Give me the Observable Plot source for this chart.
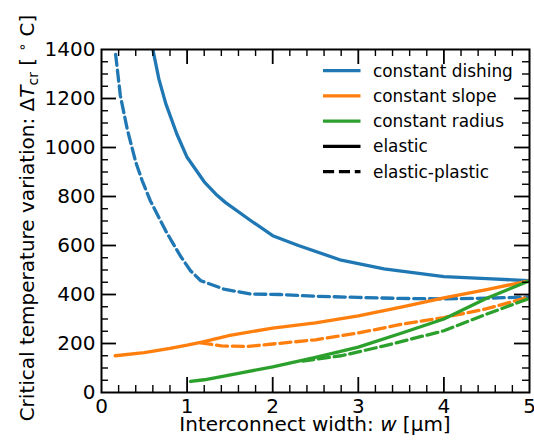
<!DOCTYPE html>
<html><head><meta charset="utf-8">
<script src="https://cdn.jsdelivr.net/npm/d3@7"></script>
<script src="https://cdn.jsdelivr.net/npm/@observablehq/plot@0.6"></script>
<style>body{margin:0;background:#fff}</style>
</head><body><div id="chart"></div>
<script>
// ---- data ----
const xTicks = [0, 1, 2, 3, 4, 5];
const yTicks = [0, 200, 400, 600, 800, 1000, 1200, 1400];
const xMajorInner = [1, 2, 3, 4];
const xMinor = [0.2,0.4,0.6,0.8,1.2,1.4,1.6,1.8,2.2,2.4,2.6,2.8,3.2,3.4,3.6,3.8,4.2,4.4,4.6,4.8];
const yMajorInner = [200, 400, 600, 800, 1000, 1200];
const yMinor = [50,100,150,250,300,350,450,500,550,650,700,750,850,900,950,1050,1100,1150,1250,1300,1350];

const dishingElastic = [[0.6,1400],[0.67,1280],[0.75,1180],[0.88,1055],[1.0,960],[1.2,860],[1.35,805],[1.45,775],[1.75,700],[2.0,640],[2.3,600],[2.8,540],[3.3,505],[4.0,473],[4.5,465],[5.0,456]];
const dishingPlastic = [[0.165,1380],[0.22,1212],[0.30,1076],[0.40,940],[0.475,865],[0.57,783],[0.75,660],[0.92,558],[1.04,497],[1.16,456],[1.43,422],[1.74,402],[2.09,400],[2.5,393],[3.0,388],[3.5,384],[4.0,382],[4.5,385],[5.0,390]];
const slopeElastic = [[0.16,150],[0.5,163],[0.8,180],[1.0,193],[1.16,205],[1.5,233],[2.0,263],[2.5,284],[3.0,313],[3.5,348],[4.0,386],[4.5,420],[5.0,456]];
const slopePlastic = [[1.16,203],[1.4,190],[1.7,188],[2.0,198],[2.5,215],[3.0,243],[3.5,278],[4.0,306],[4.5,342],[5.0,390]];
const radiusElastic = [[1.04,45],[1.2,52],[1.6,78],[2.0,105],[2.5,143],[3.0,185],[3.5,242],[4.0,300],[4.5,385],[5.0,456]];
const radiusPlastic = [[2.35,128],[2.8,150],[3.3,190],[4.0,252],[4.5,320],[5.0,384]];

const seriesNames = ["constant dishing", "constant slope", "constant radius"];
const seriesColors = ["#1f77b4", "#ff7f0e", "#2ca02c"];
const styleNames = ["elastic", "elastic-plastic"];

// ---- chart ----
const W = 534, H = 444, ML = 101, MR = 5, MT = 49, MB = 52;
const innerW = W - ML - MR, innerH = H - MT - MB;
const xMin = 0, xMax = 5, yMin = 0, yMax = 1400;
const dash = "11.1,4.8";
const lineOpts = (c, dashed) => ({x: d => d[0], y: d => d[1], stroke: c, strokeWidth: 3.3, clip: true, strokeDasharray: dashed ? dash : null});
// tick lengths in pixels converted to data units
const majLen = 15, minLen = 7;
const yu = px => px * (yMax - yMin) / innerH;
const xu = px => px * (xMax - xMin) / innerW;

const chart = Plot.plot({
  width: W, height: H, marginLeft: ML, marginRight: MR, marginTop: MT, marginBottom: MB,
  style: {fontFamily: "DejaVu Sans", fontSize: "20px", background: "white", color: "black"},
  x: {domain: [xMin, xMax]},
  y: {domain: [yMin, yMax]},
  marks: [
    Plot.line(dishingElastic, lineOpts(seriesColors[0], false)),
    Plot.line(dishingPlastic, lineOpts(seriesColors[0], true)),
    Plot.line(slopeElastic, lineOpts(seriesColors[1], false)),
    Plot.line(slopePlastic, lineOpts(seriesColors[1], true)),
    Plot.line(radiusElastic, lineOpts(seriesColors[2], false)),
    Plot.line(radiusPlastic, lineOpts(seriesColors[2], true)),
    // inward ticks bottom/top
    Plot.ruleX(xMajorInner, {x: d => d, y1: yMin, y2: yMin + yu(majLen), stroke: "black", strokeWidth: 1.8}),
    Plot.ruleX(xMajorInner, {x: d => d, y1: yMax - yu(majLen), y2: yMax, stroke: "black", strokeWidth: 1.8}),
    Plot.ruleX(xMinor, {x: d => d, y1: yMin, y2: yMin + yu(minLen), stroke: "black", strokeWidth: 1.4}),
    Plot.ruleX(xMinor, {x: d => d, y1: yMax - yu(minLen), y2: yMax, stroke: "black", strokeWidth: 1.4}),
    // inward ticks left/right
    Plot.ruleY(yMajorInner, {y: d => d, x1: xMin, x2: xMin + xu(majLen), stroke: "black", strokeWidth: 1.8}),
    Plot.ruleY(yMajorInner, {y: d => d, x1: xMax - xu(majLen), x2: xMax, stroke: "black", strokeWidth: 1.8}),
    Plot.ruleY(yMinor, {y: d => d, x1: xMin, x2: xMin + xu(minLen), stroke: "black", strokeWidth: 1.4}),
    Plot.ruleY(yMinor, {y: d => d, x1: xMax - xu(minLen), x2: xMax, stroke: "black", strokeWidth: 1.4}),
    Plot.axisX({ticks: xTicks, tickSize: 0, tickPadding: 6, label: null, fontSize: 20, tickFormat: d => String(d)}),
    Plot.axisY({ticks: yTicks, tickSize: 0, tickPadding: 6, label: null, fontSize: 20, tickFormat: d => String(d)}),
    Plot.frame({stroke: "black", strokeWidth: 2})
  ]
});
document.getElementById("chart").appendChild(chart);

const svg = d3.select(chart);
const font = "DejaVu Sans";

// x label
const xl = svg.append("text").attr("x", ML + innerW / 2).attr("y", 431)
  .attr("text-anchor", "middle").attr("font-family", font).attr("font-size", 20).attr("fill", "black");
xl.append("tspan").text("Interconnect width: ");
xl.append("tspan").attr("font-style", "italic").text("w");
xl.append("tspan").text(" [µm]");

// y label
const yl = svg.append("text").attr("transform", `translate(33.5,218) rotate(-90)`)
  .attr("text-anchor", "middle").attr("font-family", font).attr("font-size", 20).attr("fill", "black");
yl.append("tspan").text("Critical temperature variation: Δ");
yl.append("tspan").attr("font-style", "italic").text("T");
yl.append("tspan").attr("font-size", 14).attr("dy", 4).text("cr");
yl.append("tspan").attr("dy", -4).text(" [ ");
yl.append("tspan").attr("font-size", 14).attr("dy", -7).text("∘");
yl.append("tspan").attr("dy", 7).text(" C]");

// legend
const legendItems = [
  {label: seriesNames[0], color: seriesColors[0], dashed: false},
  {label: seriesNames[1], color: seriesColors[1], dashed: false},
  {label: seriesNames[2], color: seriesColors[2], dashed: false},
  {label: styleNames[0], color: "black", dashed: false},
  {label: styleNames[1], color: "black", dashed: true}
];
const lg = svg.append("g");
legendItems.forEach((it, i) => {
  const y = 70.7 + i * 25.25;
  lg.append("line").attr("x1", 323).attr("x2", 360.5).attr("y1", y).attr("y2", y)
    .attr("stroke", it.color).attr("stroke-width", 3.3)
    .attr("stroke-dasharray", it.dashed ? dash : null);
  lg.append("text").attr("x", 373).attr("y", y).attr("dy", "0.35em")
    .attr("text-anchor", "start")
    .attr("font-family", font).attr("font-size", 16.9).attr("fill", "black").text(it.label);
});
</script>
</body></html>
